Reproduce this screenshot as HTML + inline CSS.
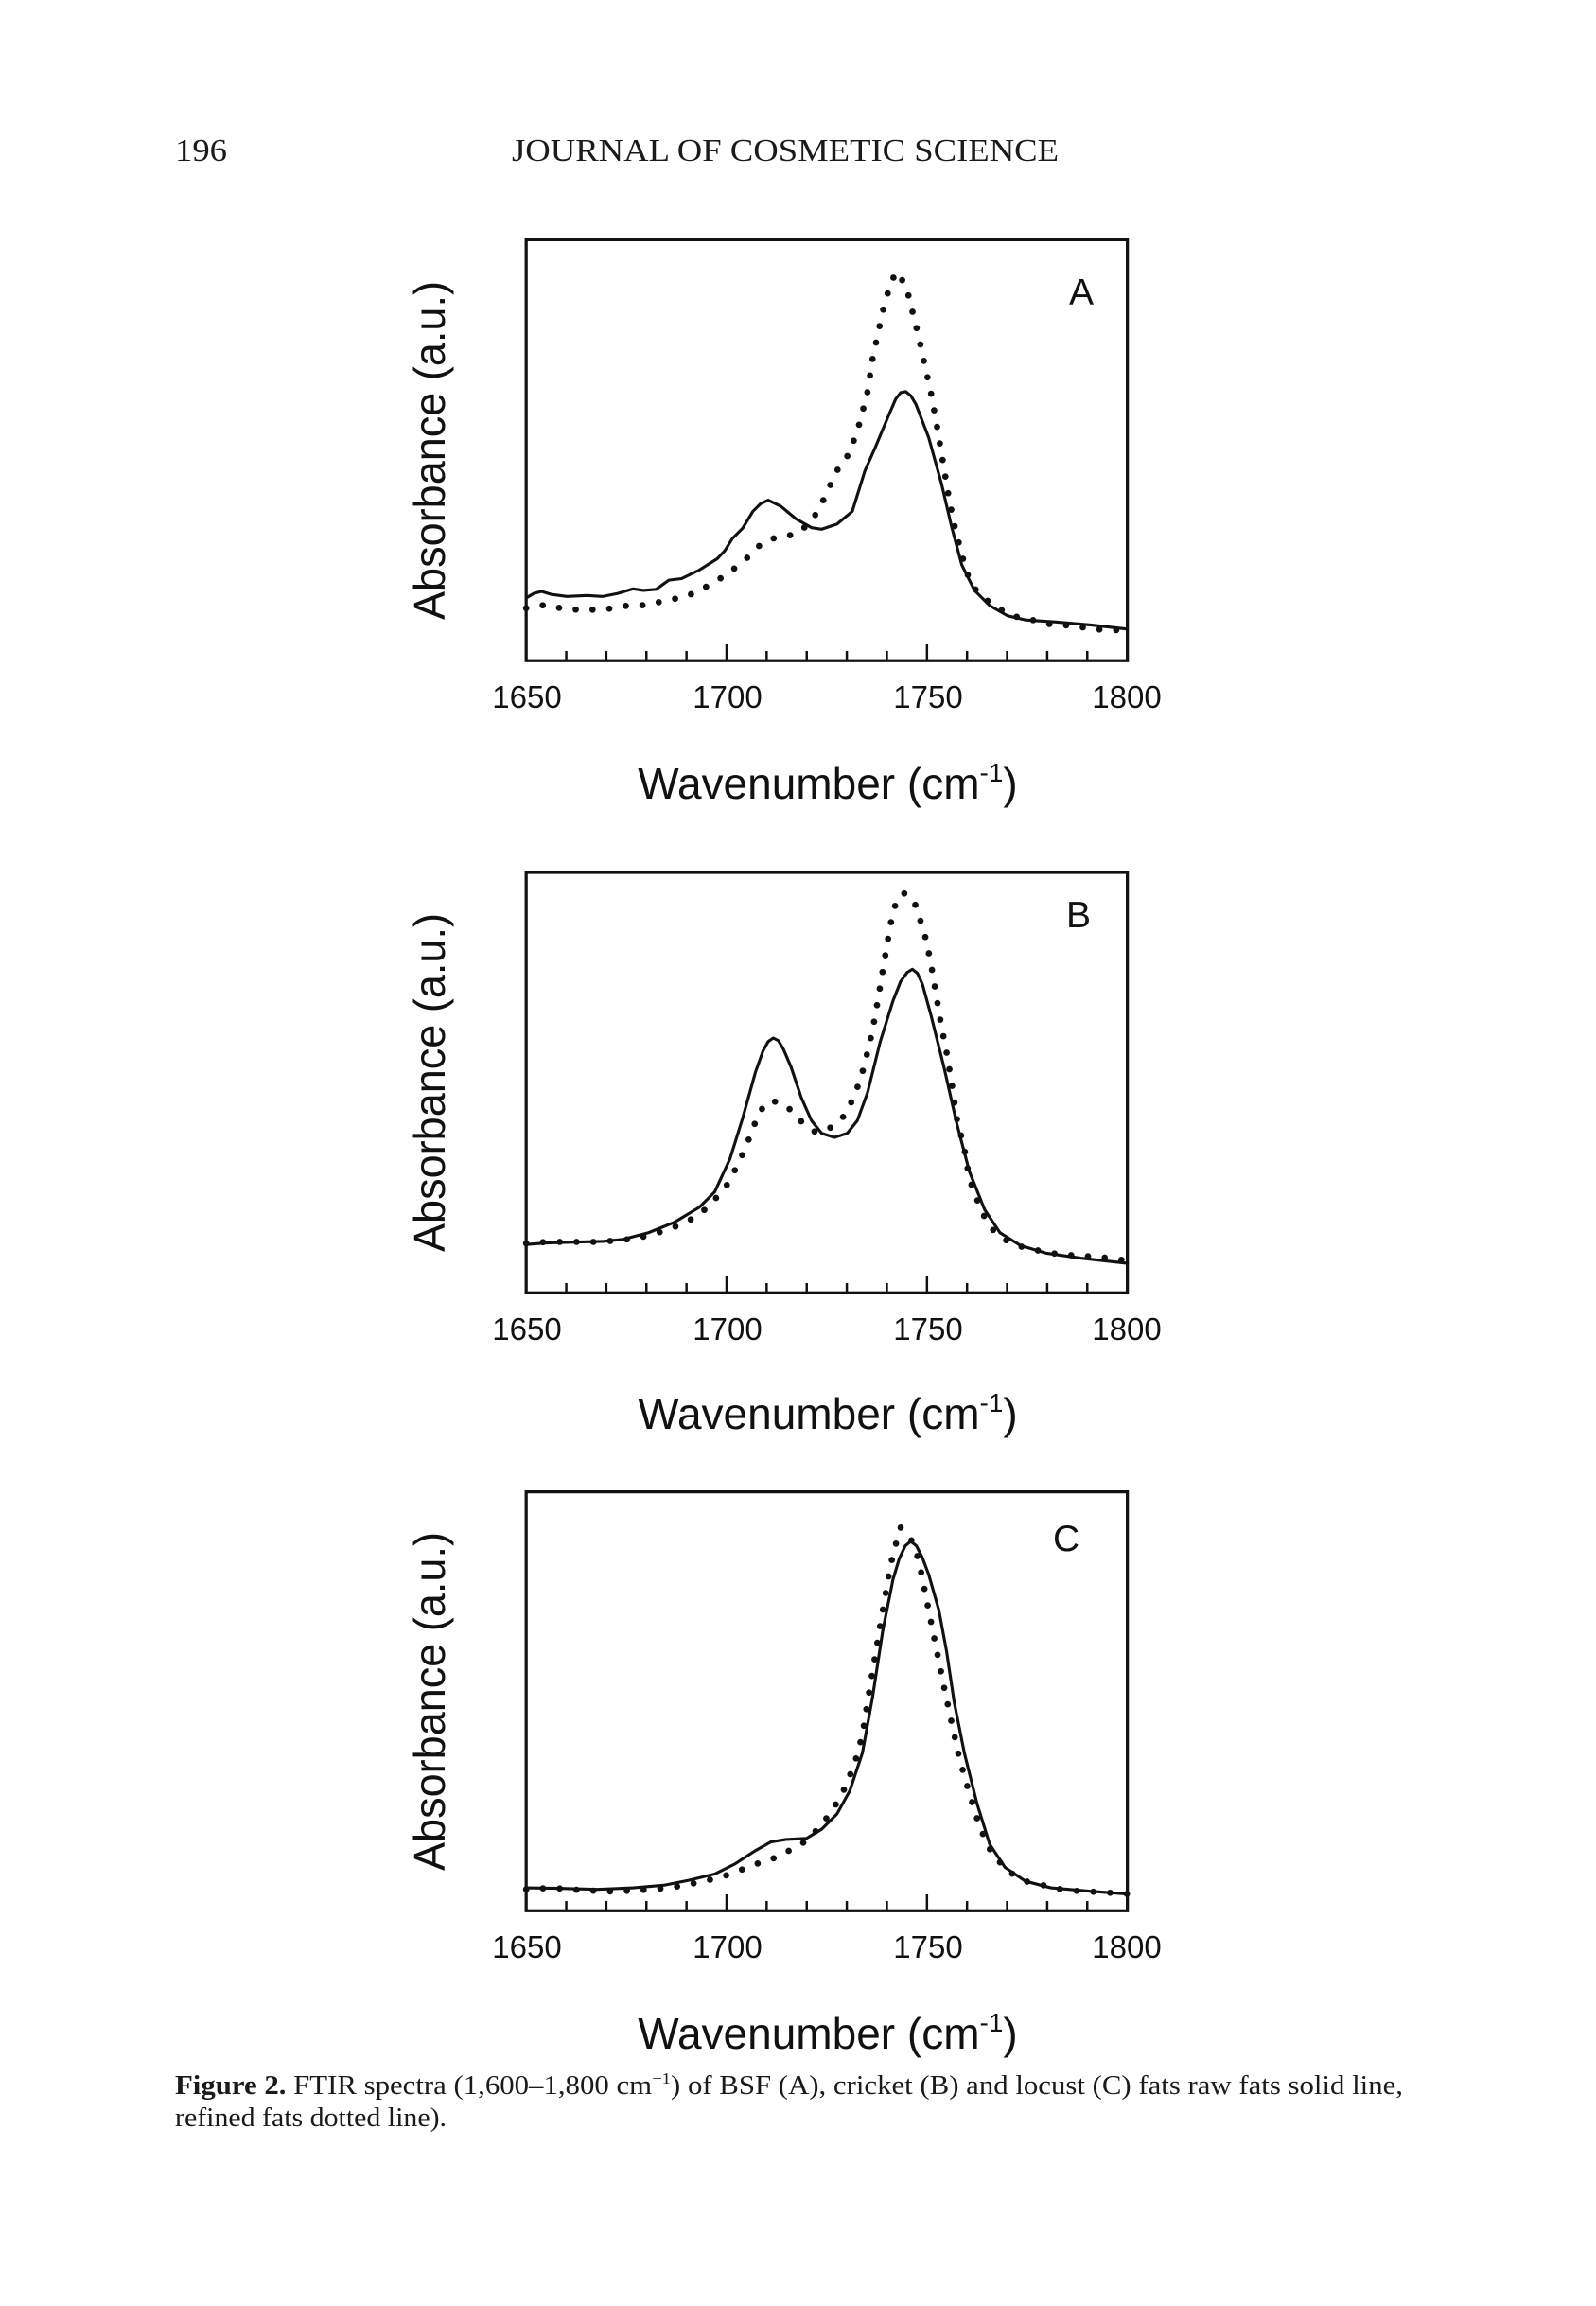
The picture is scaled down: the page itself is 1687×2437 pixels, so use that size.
<!DOCTYPE html>
<html>
<head>
<meta charset="utf-8">
<style>
  html, body { margin:0; padding:0; background:#fff; }
  body { width:1687px; height:2437px; overflow:hidden; }
  svg { display:block; }
  .serif { font-family: "Liberation Serif", serif; fill:#1a1a1a; }
  .sans { font-family: "Liberation Sans", Arial, sans-serif; fill:#111; }
</style>
</head>
<body>
<svg width="1687" height="2437" viewBox="0 0 1687 2437" xmlns="http://www.w3.org/2000/svg">
  <rect x="0" y="0" width="1687" height="2437" fill="#fff"/>

  <!-- Header -->
  <text class="serif" x="185" y="170" font-size="34" textLength="55" lengthAdjust="spacingAndGlyphs">196</text>
  <text class="serif" x="541" y="170" font-size="34" textLength="578" lengthAdjust="spacingAndGlyphs">JOURNAL OF COSMETIC SCIENCE</text>

  <!-- ================= Panel A ================= -->
  <g transform="translate(400,220) scale(0.53853)">
    <rect x="290" y="62" width="1180" height="826" fill="none" stroke="#111" stroke-width="6"/>
    <path transform="translate(0,888)" fill="none" stroke="#111" stroke-width="4.6"
      d="M368.7 0v-19M447.3 0v-19M526 0v-19M604.7 0v-19M683.3 0v-32M762 0v-19M840.7 0v-19M919.3 0v-19M998 0v-19M1076.7 0v-32M1155.3 0v-19M1234 0v-19M1312.7 0v-19M1391.3 0v-19"/>
    <polyline fill="none" stroke="#111" stroke-width="5.8" stroke-linejoin="round" stroke-linecap="round"
      points="290,765 305,756 320,752 340,758 370,762 410,760 440,762 470,756 500,747 520,750 545,748 570,730 595,727 630,710 665,688 680,672 695,648 715,628 735,595 750,580 765,573 790,585 820,610 850,627 870,630 900,620 930,595 955,515 975,470 1000,410 1015,375 1025,362 1035,360 1045,368 1055,385 1080,450 1105,540 1125,625 1145,700 1170,750 1200,780 1235,800 1270,808 1330,812 1400,818 1470,826"/>
    <polyline fill="none" stroke="#111" stroke-width="12.5" stroke-linecap="round" stroke-dasharray="0 33" stroke-linejoin="round"
      points="290,785 330,778 365,787 398,788 430,788 465,785 498,778 530,780 565,768 598,765 630,750 662,733 695,710 725,685 755,655 785,645 820,640 850,615 870,580 900,515 925,480 945,420 960,360 970,295 985,225 995,180 1015,125 1035,150 1045,190 1060,250 1075,320 1085,365 1095,420 1110,510 1120,570 1130,620 1145,680 1160,730 1180,760 1210,780 1240,800 1275,805 1305,815 1340,818 1370,820 1400,826 1440,828 1470,828"/>
  </g>
  <text class="sans" x="1130" y="322" font-size="39">A</text>
  <g class="sans" font-size="33" text-anchor="middle">
    <text x="557" y="748">1650</text>
    <text x="769" y="748">1700</text>
    <text x="981" y="748">1750</text>
    <text x="1191" y="748">1800</text>
  </g>
  <text class="sans" x="875" y="844" font-size="46" text-anchor="middle">Wavenumber (cm<tspan font-size="28" dy="-18">-1</tspan><tspan dy="18">)</tspan></text>
  <text class="sans" transform="translate(470,476) rotate(-90)" font-size="46" text-anchor="middle" textLength="358" lengthAdjust="spacingAndGlyphs">Absorbance (a.u.)</text>

  <!-- ================= Panel B ================= -->
  <g transform="translate(400,880) scale(0.53853)">
    <rect x="290" y="78" width="1180" height="825" fill="none" stroke="#111" stroke-width="6"/>
    <path transform="translate(0,903)" fill="none" stroke="#111" stroke-width="4.6"
      d="M368.7 0v-19M447.3 0v-19M526 0v-19M604.7 0v-19M683.3 0v-32M762 0v-19M840.7 0v-19M919.3 0v-19M998 0v-19M1076.7 0v-32M1155.3 0v-19M1234 0v-19M1312.7 0v-19M1391.3 0v-19"/>
    <polyline fill="none" stroke="#111" stroke-width="5.8" stroke-linejoin="round" stroke-linecap="round"
      points="290,808 330,805 400,803 440,802 480,798 530,785 580,765 630,735 660,705 690,640 715,560 740,470 755,428 765,410 775,403 785,408 795,425 810,460 830,520 850,565 870,590 895,598 920,590 940,565 960,510 985,410 1010,330 1025,292 1038,274 1048,268 1058,276 1068,298 1085,360 1110,460 1135,570 1160,665 1190,740 1220,785 1260,810 1310,825 1380,835 1470,845"/>
    <polyline fill="none" stroke="#111" stroke-width="12.5" stroke-linecap="round" stroke-dasharray="0 33" stroke-linejoin="round"
      points="290,806 330,803 365,803 400,803 435,803 467,800 500,797 532,790 565,780 598,767 630,750 660,720 685,690 702,658 720,620 735,580 750,545 770,525 800,535 828,565 858,588 890,578 915,555 935,515 950,470 965,410 975,360 985,300 995,240 1005,180 1015,140 1030,118 1050,130 1060,160 1075,210 1085,260 1095,320 1105,380 1115,430 1125,490 1135,560 1150,620 1160,680 1175,720 1190,755 1210,785 1240,805 1270,815 1305,822 1340,828 1375,830 1405,832 1440,835 1470,840"/>
  </g>
  <text class="sans" x="1127" y="980" font-size="39">B</text>
  <g class="sans" font-size="33" text-anchor="middle">
    <text x="557" y="1416">1650</text>
    <text x="769" y="1416">1700</text>
    <text x="981" y="1416">1750</text>
    <text x="1191" y="1416">1800</text>
  </g>
  <text class="sans" x="875" y="1510" font-size="46" text-anchor="middle">Wavenumber (cm<tspan font-size="28" dy="-18">-1</tspan><tspan dy="18">)</tspan></text>
  <text class="sans" transform="translate(470,1144) rotate(-90)" font-size="46" text-anchor="middle" textLength="358" lengthAdjust="spacingAndGlyphs">Absorbance (a.u.)</text>

  <!-- ================= Panel C ================= -->
  <g transform="translate(400,1540) scale(0.53853)">
    <rect x="290" y="68" width="1180" height="822" fill="none" stroke="#111" stroke-width="6"/>
    <path transform="translate(0,890)" fill="none" stroke="#111" stroke-width="4.6"
      d="M368.7 0v-19M447.3 0v-19M526 0v-19M604.7 0v-19M683.3 0v-32M762 0v-19M840.7 0v-19M919.3 0v-19M998 0v-19M1076.7 0v-32M1155.3 0v-19M1234 0v-19M1312.7 0v-19M1391.3 0v-19"/>
    <polyline fill="none" stroke="#111" stroke-width="5.8" stroke-linejoin="round" stroke-linecap="round"
      points="290,845 350,846 430,848 500,845 560,840 610,830 660,818 700,798 740,772 770,755 800,750 840,748 870,730 900,700 925,655 950,580 970,470 990,340 1010,240 1022,200 1034,174 1045,165 1056,174 1068,198 1080,230 1100,300 1115,380 1130,480 1150,580 1175,680 1200,760 1230,805 1270,832 1320,845 1400,852 1470,857"/>
    <polyline fill="none" stroke="#111" stroke-width="12.5" stroke-linecap="round" stroke-dasharray="0 33" stroke-linejoin="round"
      points="290,848 340,845 375,848 410,850 440,852 470,852 505,850 537,848 570,845 600,840 635,833 668,825 700,815 735,800 770,790 800,775 830,760 862,730 890,695 915,650 935,600 950,545 960,480 970,420 980,360 990,300 1000,240 1010,190 1025,138 1045,160 1060,200 1070,250 1080,300 1090,350 1100,400 1110,450 1125,520 1140,590 1160,660 1180,725 1205,780 1240,815 1270,832 1305,840 1340,848 1380,852 1410,853 1440,855 1470,857"/>
  </g>
  <text class="sans" x="1113" y="1639" font-size="39">C</text>
  <g class="sans" font-size="33" text-anchor="middle">
    <text x="557" y="2069">1650</text>
    <text x="769" y="2069">1700</text>
    <text x="981" y="2069">1750</text>
    <text x="1191" y="2069">1800</text>
  </g>
  <text class="sans" x="875" y="2165" font-size="46" text-anchor="middle">Wavenumber (cm<tspan font-size="28" dy="-18">-1</tspan><tspan dy="18">)</tspan></text>
  <text class="sans" transform="translate(470,1798) rotate(-90)" font-size="46" text-anchor="middle" textLength="358" lengthAdjust="spacingAndGlyphs">Absorbance (a.u.)</text>

  <!-- Caption -->
  <text class="serif" x="185" y="2213" font-size="28" textLength="1298" lengthAdjust="spacingAndGlyphs"><tspan font-weight="bold">Figure 2.</tspan>  FTIR spectra (1,600–1,800 cm<tspan font-size="17" dy="-11">−1</tspan><tspan dy="11">) of BSF (A), cricket (B) and locust (C) fats raw fats solid line,</tspan></text>
  <text class="serif" x="185" y="2247" font-size="28" textLength="287" lengthAdjust="spacingAndGlyphs">refined fats dotted line).</text>
</svg>
</body>
</html>
